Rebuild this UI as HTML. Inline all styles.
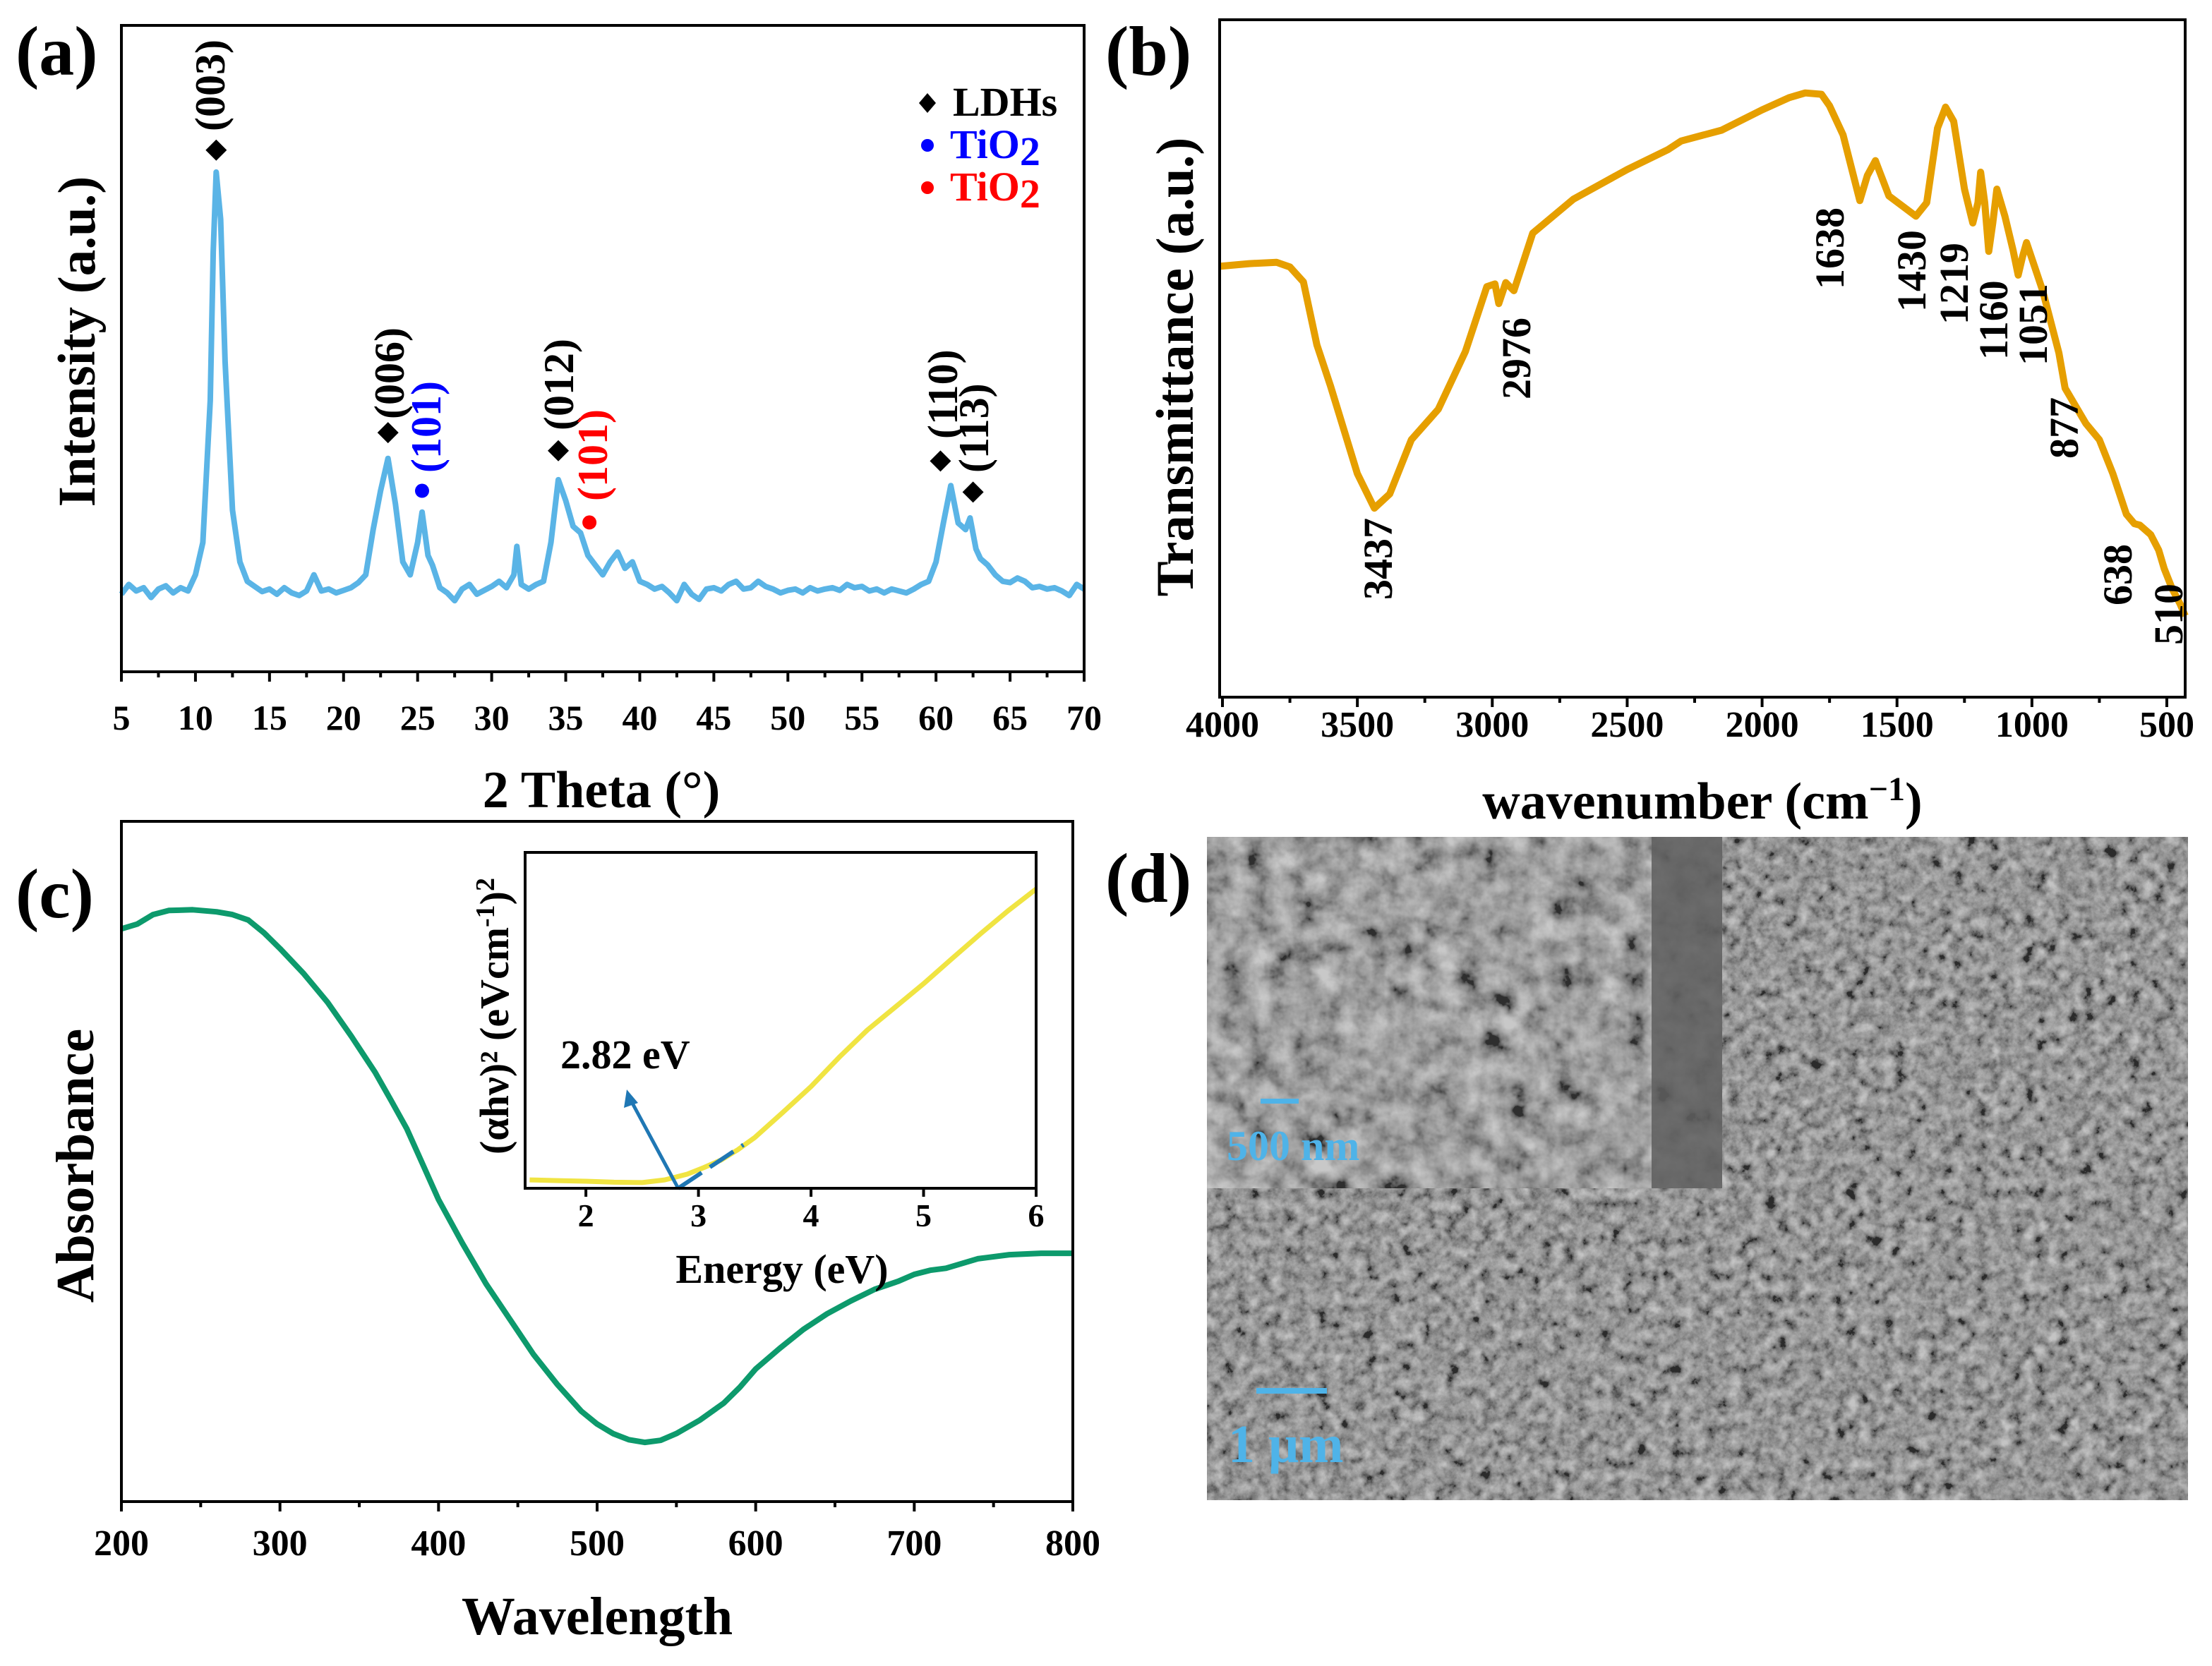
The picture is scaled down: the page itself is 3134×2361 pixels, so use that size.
<!DOCTYPE html>
<html><head><meta charset="utf-8"><style>
html,body{margin:0;padding:0;background:#fff;}
svg{display:block;font-family:"Liberation Serif",serif;font-weight:bold;}
</style></head><body>
<svg id="fig" width="3134" height="2361" viewBox="0 0 3134 2361" xmlns="http://www.w3.org/2000/svg">
<defs>
<filter id="semNoise" x="0" y="0" width="100%" height="100%">
<feTurbulence type="fractalNoise" baseFrequency="0.06" numOctaves="4" seed="7"/>
<feColorMatrix type="matrix" values="0.33 0.33 0.33 0 0 0.33 0.33 0.33 0 0 0.33 0.33 0.33 0 0 0 0 0 0 1"/>
<feComponentTransfer><feFuncR type="linear" slope="2.6" intercept="-0.85"/><feFuncG type="linear" slope="2.6" intercept="-0.85"/><feFuncB type="linear" slope="2.6" intercept="-0.85"/></feComponentTransfer>
</filter>
<filter id="semNoise2" x="0" y="0" width="100%" height="100%">
<feTurbulence type="fractalNoise" baseFrequency="0.03" numOctaves="4" seed="3"/>
<feColorMatrix type="matrix" values="0.33 0.33 0.33 0 0 0.33 0.33 0.33 0 0 0.33 0.33 0.33 0 0 0 0 0 0 1"/>
<feComponentTransfer><feFuncR type="linear" slope="2.6" intercept="-0.8"/><feFuncG type="linear" slope="2.6" intercept="-0.8"/><feFuncB type="linear" slope="2.6" intercept="-0.8"/></feComponentTransfer>
</filter>
</defs>

<!-- Panel labels -->
<text x="22" y="106" font-size="100">(a)</text>
<text x="1566" y="106" font-size="100">(b)</text>
<text x="22" y="1300" font-size="100">(c)</text>
<text x="1566" y="1278" font-size="100">(d)</text>

<!-- Panel d SEM image -->
<g>
<rect x="1710" y="1186" width="1390" height="940" fill="#6c6c6c"/>
<rect x="1710" y="1186" width="1390" height="940" filter="url(#semNoise)" opacity="0.6"/>
<rect x="1710" y="1186" width="730" height="498" fill="#757575"/>
<rect x="1710" y="1186" width="730" height="498" filter="url(#semNoise2)" opacity="0.6"/>
<rect x="2340" y="1186" width="100" height="498" fill="#5e5e5e" opacity="0.85"/>
<rect x="1786" y="1557" width="54" height="7" fill="#4fb3e8"/>
<text x="1738" y="1644" font-size="60" fill="#4fb3e8">500 nm</text>
<rect x="1780" y="1967" width="100" height="8" fill="#4fb3e8"/>
<text x="1740" y="2072" font-size="76" fill="#4fb3e8">1 μm</text>
</g>

<g id="pa"></g>
<g id="pb"></g>
<g id="pc"></g>

<!-- Panel a annotations -->
<g font-size="60">
<text transform="translate(318,186) rotate(-90)">(003)</text>
<text transform="translate(572,594) rotate(-90)">(006)</text>
<text transform="translate(624,670) rotate(-90)" fill="#0000ff">(101)</text>
<text transform="translate(812,610) rotate(-90)">(012)</text>
<text transform="translate(860,710) rotate(-90)" fill="#ff0000">(101)</text>
<text transform="translate(1356,622) rotate(-90)">(110)</text>
<text transform="translate(1400,670) rotate(-90)">(113)</text>
</g>
<g>
<polygon points="1314,132 1326,146 1314,160 1302,146" fill="#000"/>
<text x="1350" y="164" font-size="58">LDHs</text>
<circle cx="1314" cy="206" r="9" fill="#0000ff"/>
<text x="1346" y="224" font-size="58" fill="#0000ff">TiO<tspan dy="10">2</tspan></text>
<circle cx="1314" cy="266" r="9" fill="#ff0000"/>
<text x="1346" y="284" font-size="58" fill="#ff0000">TiO<tspan dy="10">2</tspan></text>
</g>

<!-- Panel b peak labels -->
<g font-size="58">
<text transform="translate(1972,850) rotate(-90)">3437</text>
<text transform="translate(2168,566) rotate(-90)">2976</text>
<text transform="translate(2612,410) rotate(-90)">1638</text>
<text transform="translate(2728,442) rotate(-90)">1430</text>
<text transform="translate(2788,460) rotate(-90)">1219</text>
<text transform="translate(2844,510) rotate(-90)">1160</text>
<text transform="translate(2900,518) rotate(-90)">1051</text>
<text transform="translate(2944,650) rotate(-90)">877</text>
<text transform="translate(3020,858) rotate(-90)">638</text>
<text transform="translate(3092,914) rotate(-90)">510</text>
</g>
</svg>
<script>
// ---------- Data: panel (a) XRD ----------
const xrdTheta = [5,5.5,6,6.5,7,7.5,8,8.5,9,9.5,10,10.5,11,11.2,11.4,11.7,12,12.5,13,13.5,14,14.5,15,15.5,16,16.5,17,17.5,18,18.5,19,19.5,20,20.5,21,21.5,22,22.5,23,23.5,24,24.5,25,25.3,25.7,26,26.5,27,27.5,28,28.5,29,29.5,30,30.5,31,31.5,31.7,32,32.5,33,33.5,34,34.5,35,35.5,36,36.5,37,37.5,38,38.5,39,39.5,40,40.5,41,41.5,42,42.5,43,43.5,44,44.5,45,45.5,46,46.5,47,47.5,48,48.5,49,49.5,50,50.5,51,51.5,52,52.5,53,53.5,54,54.5,55,55.5,56,56.5,57,57.5,58,58.5,59,59.5,60,60.5,61,61.5,62,62.3,62.7,63,63.5,64,64.5,65,65.5,66,66.5,67,67.5,68,68.5,69,69.5,70];
const xrdIntensity = [120,135,125,130,115,128,133,122,130,125,150,200,420,650,773,700,480,250,170,140,132,124,128,120,130,122,118,125,150,125,128,122,126,130,138,150,220,280,330,260,170,150,200,247,180,165,130,122,110,128,135,120,126,132,140,130,150,194,135,128,135,140,200,297,265,225,215,180,165,150,170,185,160,170,140,135,128,132,122,110,135,120,112,128,130,125,135,140,128,130,140,132,128,122,126,128,122,130,125,128,130,126,135,130,132,125,128,122,128,125,122,128,135,140,170,230,288,230,220,238,190,175,165,150,140,138,145,140,130,132,128,130,125,118,135,128];
const xrdTicks = [5,10,15,20,25,30,35,40,45,50,55,60,65,70];
const xrdLdhPeaks = [[11.4,807],[23,370],[34.5,342],[60.3,326],[62.5,278]];
const xrdTioBlue = [[25.3,280]];
const xrdTioRed = [[36.6,231]];

// ---------- Data: panel (b) FTIR ----------
const ftirWave = [4010,3900,3800,3750,3700,3650,3600,3500,3437,3380,3300,3200,3100,3020,2990,2976,2950,2920,2850,2700,2500,2350,2300,2150,2000,1900,1840,1780,1750,1700,1638,1610,1580,1530,1480,1430,1390,1350,1320,1290,1250,1219,1200,1190,1175,1160,1145,1130,1100,1070,1051,1035,1020,960,900,877,800,750,700,650,620,600,560,530,510,480,450,432];
const ftirT = [63.6,64,64.2,63.5,61.3,52,46,33,27.9,30,38,42.5,51,60.6,61,58.1,61.2,60,68.5,73.5,77.9,80.8,82.1,83.7,86.7,88.5,89.2,89,87.3,83,73.3,77,79.2,74,72.5,71.0,73,84,87.1,85,75,70.0,73,77.5,73,65.8,70,75.0,71,66,62.3,65,67.1,60,50.8,45.6,40.4,38,33,27,25.6,25.4,24,21.7,19,16,13.7,12];
const ftirTicks = [4000,3500,3000,2500,2000,1500,1000,500];

// ---------- Data: panel (c) absorbance ----------
const absWave = [200,210,220,230,245,260,270,280,290,300,315,330,345,360,370,380,390,400,415,430,445,460,475,490,500,510,520,530,540,550,565,580,590,600,615,630,645,660,675,690,700,710,720,740,760,780,800];
const absVal = [84.2,84.9,86.3,86.9,87,86.7,86.3,85.5,83.6,81.3,77.6,73.4,68.4,63.1,59,54.8,49.6,44.4,38,32,26.8,21.6,17.2,13.3,11.4,10,9.1,8.7,9,10,12,14.5,16.8,19.5,22.5,25.3,27.6,29.5,31.2,32.4,33.4,34,34.3,35.7,36.3,36.5,36.5];
const absTicks = [200,300,400,500,600,700,800];

// ---------- Data: inset Tauc ----------
const taucE = [1.5,1.75,2.0,2.25,2.5,2.7,2.9,3.05,3.2,3.35,3.5,3.75,4.0,4.25,4.5,4.75,5.0,5.25,5.5,5.75,6.0];
const taucY = [2.5,2.3,2.1,1.8,1.7,2.5,4.2,6.2,8.4,11.5,15.1,22.6,30.3,39,47.1,54,60.9,68.3,75.6,82.6,89.1];
const taucTicks = [2,3,4,5,6];
const bandGap = [2.82];
const tangentEnd = [3.4];

const NS = "http://www.w3.org/2000/svg";
function mk(parent, tag, attrs){
  const el = document.createElementNS(NS, tag);
  for (const k in attrs) el.setAttribute(k, attrs[k]);
  parent.appendChild(el);
  return el;
}
function lin(d0,d1,r0,r1){ return v => r0 + (v-d0)*(r1-r0)/(d1-d0); }
function pathD(xs, ys, sx, sy){ return xs.map((x,i)=>(i?'L':'M')+sx(x).toFixed(1)+','+sy(ys[i]).toFixed(1)).join(''); }

function axesBox(g, x0,y0,x1,y1, sw){
  const r = mk(g,'rect',{x:x0,y:y0,width:x1-x0,height:y1-y0,fill:'none',stroke:'#000','stroke-width':sw});
  
  
}
function xTicks(g, ticks, sx, yb, minorStep, fs, labY, maj, mnr){
  const lo = Math.min(...ticks), hi = Math.max(...ticks);
  for (let v = lo; v <= hi+1e-9; v += minorStep){
    const isMajor = ticks.some(t=>Math.abs(t-v)<1e-6);
    const t = mk(g,'line',{x1:sx(v),x2:sx(v),y1:yb,y2:yb+(isMajor?maj:mnr),stroke:'#000','stroke-width':4});
    
    
  }
  ticks.forEach(v=>{
    const t = mk(g,'text',{x:sx(v),y:labY,'font-size':fs,'text-anchor':'middle'});
    t.textContent = v;
    
    
  });
}
function title(g, txt, x, y, fs, rot, name){
  const t = mk(g,'text',{'font-size':fs,'text-anchor':'middle',transform:`translate(${x},${y})`+(rot?' rotate(-90)':'')});
  t.textContent = txt;
  
  
  return t;
}
function sup(t, txt, fs, dy){
  const s = mk(t,'tspan',{dy:-dy,'font-size':fs});
  s.textContent = txt;
  return s;
}
function norm(t, txt, dy){
  const s = mk(t,'tspan',{dy:dy});
  s.textContent = txt;
  return s;
}

// ---------- Panel a ----------
(function(){
  const g = document.getElementById('pa');
  const sx = lin(5,70,172,1536), sy = lin(0,1000,952,36);
  const p = mk(g,'path',{d:pathD(xrdTheta,xrdIntensity,sx,sy),fill:'none',stroke:'#5ab4e6','stroke-width':8,'stroke-linejoin':'round'});
  
  
  xrdLdhPeaks.forEach(([x,v])=>{
    const cx=sx(x), cy=sy(v);
    const m = mk(g,'polygon',{points:`${cx},${cy-15} ${cx+15},${cy} ${cx},${cy+15} ${cx-15},${cy}`,fill:'#000'});
    
    
  });
  xrdTioBlue.forEach(([x,v])=>{
    const m = mk(g,'circle',{cx:sx(x),cy:sy(v),r:10,fill:'#0000ff'});
    
    
  });
  xrdTioRed.forEach(([x,v])=>{
    const m = mk(g,'circle',{cx:sx(x),cy:sy(v),r:10,fill:'#ff0000'});
    
    
  });
  axesBox(g,172,36,1536,952,4);
  xTicks(g,xrdTicks,sx,952,2.5,50,1034,14,8);
  title(g,'2 Theta (°)',852,1144,74,false,'x-axis-title');
  title(g,'Intensity (a.u.)',134,484,75,true,'y-axis-title');
})();

// ---------- Panel b ----------
(function(){
  const g = document.getElementById('pb');
  const sx = lin(4000,500,1732,3070), sy = lin(0,100,988,28);
  const p = mk(g,'path',{d:pathD(ftirWave,ftirT,sx,sy),fill:'none',stroke:'#e69f00','stroke-width':10,'stroke-linejoin':'round'});
  
  
  axesBox(g,1728,28,3096,988,4);
  xTicks(g,ftirTicks,sx,988,250,52,1044,14,8);
  const t = title(g,'wavenumber (cm',2412,1160,74,false,'x-axis-title');
  sup(t,'−1',48,26);
  norm(t,')',26);
})();
(function(){
  const g = document.getElementById('pb');
  title(g,'Transmittance (a.u.)',1690,520,75,true,'y-axis-title');
})();

// ---------- Panel c ----------
(function(){
  const g = document.getElementById('pc');
  const sx = lin(200,800,172,1520), sy = lin(0,100,2128,1164);
  const p = mk(g,'path',{d:pathD(absWave,absVal,sx,sy),fill:'none',stroke:'#0d9a6c','stroke-width':8,'stroke-linejoin':'round'});
  
  
  axesBox(g,172,1164,1520,2128,4);
  xTicks(g,absTicks,sx,2128,50,52,2204,14,8);
  title(g,'Wavelength',846,2316,76,false,'x-axis-title');
  title(g,'Absorbance',132,1652,76,true,'y-axis-title');

  // inset
  const ig = mk(g,'g',{});
  
  
  const ix = lin(1.46,6,744,1468), iy = lin(0,100,1684,1208);
  const tp = mk(ig,'path',{d:pathD(taucE,taucY,ix,iy),fill:'none',stroke:'#f0e442','stroke-width':7,'stroke-linejoin':'round'});
  
  
  const bg = bandGap[0], te = tangentEnd[0];
  const slope = (taucY[10]-taucY[8])/(taucE[10]-taucE[8]);
  const tl = mk(ig,'line',{x1:ix(bg),y1:iy(0),x2:ix(te),y2:iy(slope*(te-bg)),stroke:'#1f77b4','stroke-width':6,'stroke-dasharray':'40 14'});
  
  
  const ax = ix(bg), ay = iy(0), bx = 888, by = 1544;
  const ar = mk(ig,'line',{x1:ax,y1:ay,x2:bx+4,y2:by+12,stroke:'#1f77b4','stroke-width':5});
  
  
  const ah = mk(ig,'polygon',{points:`${bx},${by} ${bx-4},${by+26} ${bx+16},${by+19}`,fill:'#1f77b4'});
  
  
  const lt = mk(ig,'text',{x:794,y:1514,'font-size':58});
  lt.textContent = bg.toFixed(2)+' eV';
  
  
  axesBox(ig,744,1208,1468,1684,4);
  xTicks(ig,taucTicks,ix,1684,1,46,1738,12,6);
  title(ig,'Energy (eV)',1108,1818,58,false,'inset-x-axis-title');
  const yt = title(ig,'(αhν)² (eVcm',720,1440,58,true,'inset-y-axis-title');
  sup(yt,'-1',38,20);
  norm(yt,')',20);
  sup(yt,'2',38,20);
})();
</script>
</body></html>
